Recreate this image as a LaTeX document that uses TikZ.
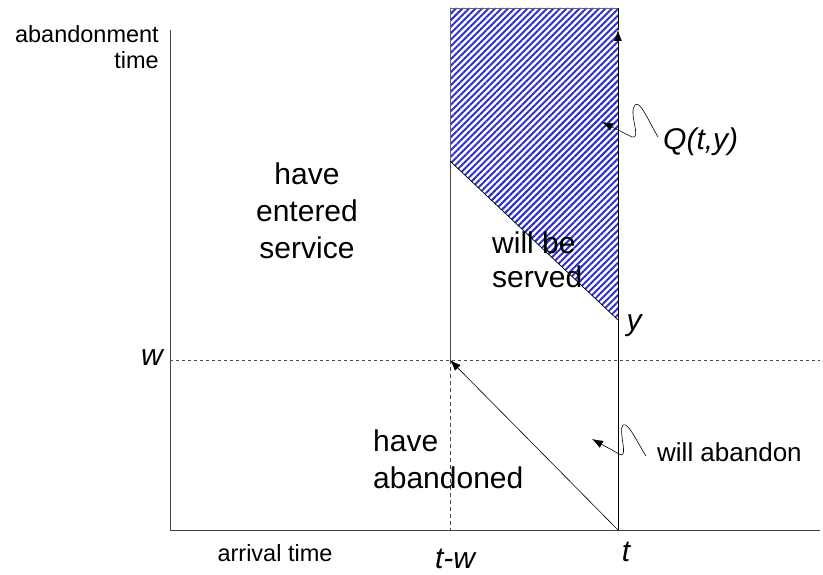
\documentclass[tikz,border=0pt]{standalone}
\usepackage{fontspec}
\setmainfont{Liberation Sans}
\usetikzlibrary{patterns.meta, arrows.meta}

\definecolor{hatchblue}{RGB}{45,45,205}
\newcommand{\bigtxt}{\fontsize{30}{37}\selectfont}
\newcommand{\smalltxt}{\fontsize{23.5}{26}\selectfont}

\begin{document}
\begin{tikzpicture}[x=1pt, y=-1pt,
  >={Latex[length=11pt, width=8pt]},
  axis/.style={line width=0.8pt, black!75},
  guide/.style={line width=0.6pt, black!70, dash pattern=on 3pt off 3pt},
  lbl/.style={inner sep=0pt, font=\bigtxt},
  lblsmall/.style={inner sep=0pt, font=\smalltxt}]
\useasboundingbox (0,0) rectangle (823,575);

% points
\coordinate (O) at (170,530);
\coordinate (xend) at (820,530);
\coordinate (ytop) at (170,30);
\coordinate (A) at (450,8);
\coordinate (B) at (618,8);
\coordinate (D) at (450,161);
\coordinate (Y) at (618,320);
\coordinate (W) at (450,360);
\coordinate (T) at (618,530);
\coordinate (tarr) at (618,30);
\coordinate (wl) at (170,360);
\coordinate (wr) at (820,360);

% hatched region
\fill[pattern={Lines[angle=45, distance=4.6pt, line width=2pt]}, pattern color=hatchblue]
  (A) -- (B) -- (Y) -- (D) -- cycle;
\draw[line width=0.6pt, black!60] (D) -- (A) -- (B);

% axes
\draw[axis] (ytop) -- (O) -- (xend);

% w level and t-w
\draw[guide] (wl) -- (wr);
\draw[guide, line width=0.9pt, dash pattern=on 4pt off 3pt] (W) -- (W |- O);
\draw[line width=0.6pt, black!70] (W) -- (D);

% t line
\draw[line width=0.8pt, ->] (T) -- (tarr);
\draw[line width=0.8pt] (tarr) -- (B);

% diagonals
\draw[line width=0.7pt] (D) -- (Y);
\draw[line width=0.6pt, ->] (T) -- (W);

% labels
\node[lblsmall, align=right, anchor=east] (abtime) at (159,47) {abandonment\\time};
\node[lblsmall] (arrtime) at (275,553) {arrival time};
\node[lbl, font=\bigtxt\itshape] (wlab) at (152,358) {w};
\node[lbl, font=\bigtxt\itshape] (twlab) at (455,559) {t-w};
\node[lbl, font=\bigtxt\itshape] (tlab) at (626,552) {t};
\node[lbl, font=\bigtxt\itshape] (ylab) at (634,326) {y};
\node[lbl, align=center] (entered) at (307,211) {have\\entered\\service};
\node[lbl, align=left, anchor=west, font=\fontsize{30}{34}\selectfont] (served) at (492,260) {will be\\served};
\node[lbl, align=left, anchor=west] (abandoned) at (373,459) {have\\abandoned};
\node[lbl, font=\bigtxt\itshape, anchor=west] (Qlab) at (663,142) {Q(t,y)};
\node[lbl, font=\fontsize{26}{30}\selectfont, anchor=west] (willab) at (657,452) {will abandon};

% squiggles
\coordinate (qtip) at (602,122);
\coordinate (atip) at (592,439);
\draw[line width=0.6pt, ->] (Qlab.west) ++(-5,-5) .. controls (648,120) and (640,100) .. (635,105)
  .. controls (628,112) and (642,140) .. (632,137) -- (qtip);
\draw[line width=0.6pt, ->] (willab.west) ++(-11,4) .. controls (636,440) and (628,422) .. (623,425)
  .. controls (618,430) and (628,456) .. (621,455) -- (atip);

\end{tikzpicture}
\end{document}
